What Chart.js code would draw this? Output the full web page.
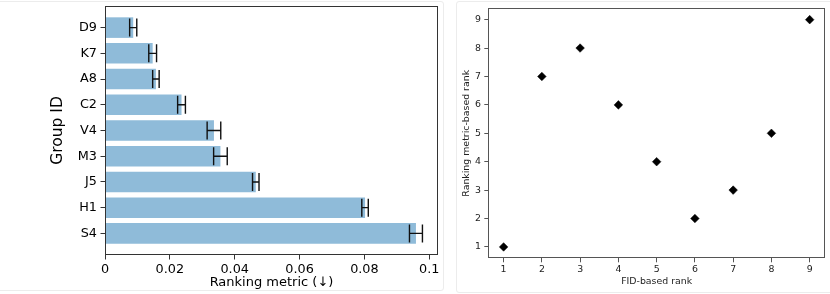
<!DOCTYPE html>
<html>
<head>
<meta charset="utf-8">
<script src="https://cdn.jsdelivr.net/npm/chart.js@4/dist/chart.umd.min.js"></script>
<style>
  html, body { margin: 0; padding: 0; background: #fff; }
  body { width: 830px; height: 294px; position: relative; overflow: hidden; }
  .frame { position: absolute; border: 1px solid #ececec; border-radius: 3px; }
  canvas { position: absolute; top: 0; }
  #metricChart { left: 0; }
  #rankChart { left: 440px; }
</style>
</head>
<body>
<div class="frame" style="left:-4px; top:1px; width:446px; height:288px;"></div>
<div class="frame" style="left:456px; top:1px; width:380px; height:290px;"></div>
<canvas id="metricChart" width="440" height="294"></canvas>
<canvas id="rankChart" width="390" height="294"></canvas>
<script>
const groupIds = ["D9", "K7", "A8", "C2", "V4", "M3", "J5", "H1", "S4"];
const metricValues = [0.0087, 0.0147, 0.0157, 0.0236, 0.0336, 0.0356, 0.0465, 0.0802, 0.0959];
const metricErrors = [0.0011, 0.0012, 0.0010, 0.0012, 0.0021, 0.0021, 0.0010, 0.0010, 0.0020];
const metricTicks = [0, 0.02, 0.04, 0.06, 0.08, 0.1];

const fidRanks = [1, 2, 3, 4, 5, 6, 7, 8, 9];
const metricRanks = [1, 7, 8, 6, 4, 2, 3, 5, 9];
const rankTicks = [1, 2, 3, 4, 5, 6, 7, 8, 9];

Chart.defaults.font.family = "'DejaVu Sans', sans-serif";
Chart.defaults.color = "#000";

// full box around the plot area, like matplotlib spines
const boxPlugin = {
    id: "box",
    afterDraw(chart, args, opts) {
        const { ctx, chartArea: a } = chart;
        ctx.save();
        ctx.strokeStyle = opts.color;
        ctx.lineWidth = 1;
        ctx.strokeRect(Math.round(a.left) + 0.5, Math.round(a.top) + 0.5,
            Math.round(a.right - a.left) - 1, Math.round(a.bottom - a.top) - 1);
        ctx.restore();
    }
};

const errorBarPlugin = {
    id: "errorBars",
    afterDatasetsDraw(chart) {
        const { ctx, scales: { x, y } } = chart;
        ctx.save();
        ctx.strokeStyle = "#111";
        ctx.lineWidth = 1.4;
        metricValues.forEach((v, i) => {
            const x1 = x.getPixelForValue(v - metricErrors[i]);
            const x2 = x.getPixelForValue(v + metricErrors[i]);
            const yc = y.getPixelForValue(i);
            ctx.beginPath();
            ctx.moveTo(x1, yc);
            ctx.lineTo(x2, yc);
            ctx.moveTo(x1, yc - 9);
            ctx.lineTo(x1, yc + 9);
            ctx.moveTo(x2, yc - 9);
            ctx.lineTo(x2, yc + 9);
            ctx.stroke();
        });
        ctx.restore();
    }
};

function fixSize(size, vertical) {
    return scale => {
        if (vertical) scale.width = size;
        else scale.height = size;
        scale.paddingTop = 0;
        scale.paddingBottom = 0;
        scale.paddingLeft = 0;
        scale.paddingRight = 0;
    };
}

new Chart(document.getElementById("metricChart"), {
    type: "bar",
    data: {
        datasets: [{
            data: metricValues.map((v, i) => ({ x: v, y: i })),
            backgroundColor: "#8fbbd9",
            categoryPercentage: 0.8,
            barPercentage: 1.0
        }]
    },
    options: {
        indexAxis: "y",
        responsive: false,
        animation: false,
        layout: { padding: { left: 0, top: 6, right: 2, bottom: 0 } },
        plugins: {
            legend: { display: false },
            tooltip: { enabled: false },
            box: { color: "#333" }
        },
        scales: {
            x: {
                type: "linear",
                min: 0,
                max: 0.1027,
                afterBuildTicks: s => { s.ticks = metricTicks.map(v => ({ value: v })); },
                afterFit: fixSize(39, false),
                border: { display: false },
                grid: { drawOnChartArea: false, tickLength: 4.5, tickColor: "#333" },
                ticks: {
                    padding: 2,
                    font: { size: 12.8 },
                    callback: v => String(+v.toFixed(2))
                },
                title: {
                    display: true,
                    text: "Ranking metric (↓)",
                    font: { size: 13 },
                    padding: { top: 0, bottom: 4 }
                }
            },
            y: {
                type: "linear",
                min: -0.84,
                max: 8.84,
                reverse: true,
                offset: false,
                afterBuildTicks: s => { s.ticks = groupIds.map((g, i) => ({ value: i })); },
                afterFit: fixSize(105, true),
                border: { display: false },
                grid: { offset: false, drawOnChartArea: false, tickLength: 4.5, tickColor: "#333" },
                ticks: {
                    padding: 3.5,
                    font: { size: 12.8 },
                    callback: v => groupIds[v]
                },
                title: {
                    display: true,
                    text: "Group ID",
                    font: { size: 15.5 },
                    padding: { top: 48.5, bottom: 0 }
                }
            }
        }
    },
    plugins: [errorBarPlugin, boxPlugin]
});

new Chart(document.getElementById("rankChart"), {
    type: "scatter",
    data: {
        datasets: [{
            data: fidRanks.map((r, i) => ({ x: r, y: metricRanks[i] })),
            pointStyle: "rectRot",
            pointRadius: 4.3,
            backgroundColor: "#000",
            borderColor: "#000",
            borderWidth: 0.5
        }]
    },
    options: {
        responsive: false,
        animation: false,
        layout: { padding: { left: 0, top: 8.3, right: 5, bottom: 0 } },
        plugins: {
            legend: { display: false },
            tooltip: { enabled: false },
            box: { color: "#555" }
        },
        scales: {
            x: {
                type: "linear",
                min: 0.6,
                max: 9.4,
                afterBuildTicks: s => { s.ticks = rankTicks.map(v => ({ value: v })); },
                afterFit: fixSize(35.7, false),
                border: { display: false },
                grid: { drawOnChartArea: false, tickLength: 4, tickColor: "#555" },
                ticks: { padding: 2, font: { size: 9.4 }, color: "#222" },
                title: {
                    display: true,
                    text: "FID-based rank",
                    font: { size: 9.4 },
                    color: "#222",
                    padding: { top: 0, bottom: 6.7 }
                }
            },
            y: {
                type: "linear",
                min: 0.6,
                max: 9.4,
                afterBuildTicks: s => { s.ticks = rankTicks.map(v => ({ value: v })); },
                afterFit: fixSize(48.3, true),
                border: { display: false },
                grid: { drawOnChartArea: false, tickLength: 4, tickColor: "#555" },
                ticks: { padding: 3.3, font: { size: 9.4 }, color: "#222" },
                title: {
                    display: true,
                    text: "Ranking metric-based rank",
                    font: { size: 9.4 },
                    color: "#222",
                    padding: { top: 21.4, bottom: 0 }
                }
            }
        }
    },
    plugins: [boxPlugin]
});
</script>
</body>
</html>
